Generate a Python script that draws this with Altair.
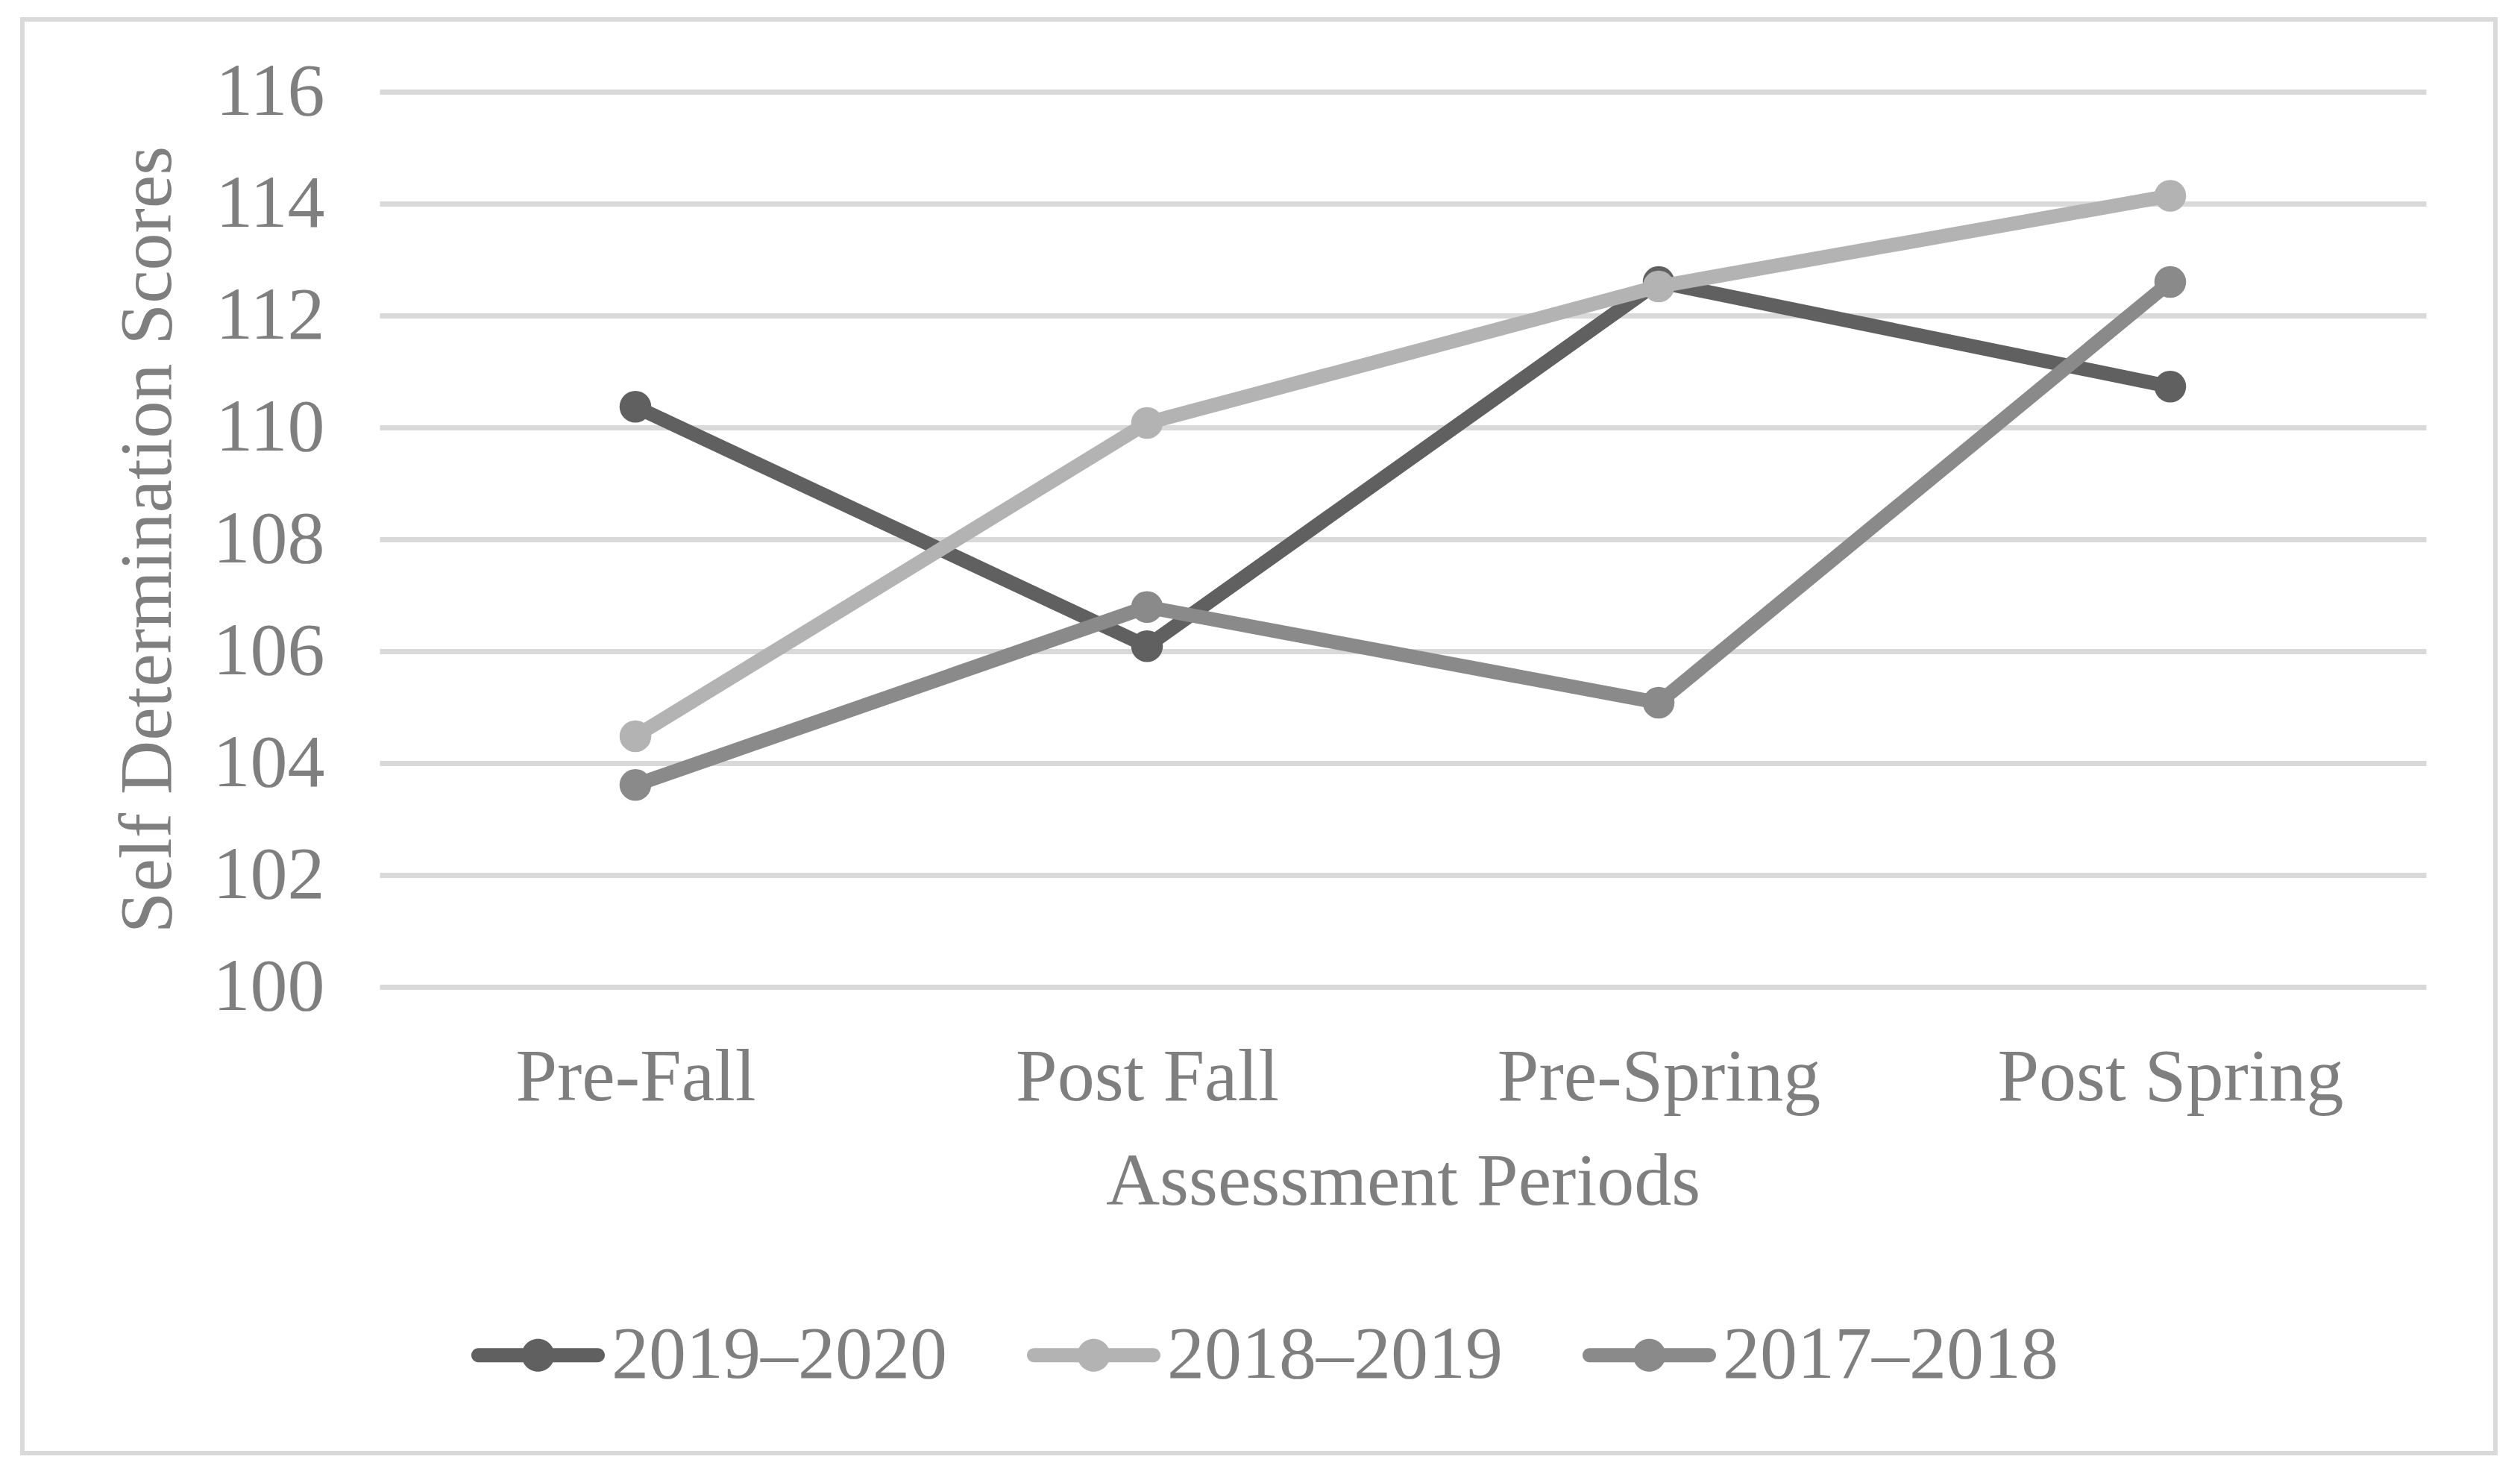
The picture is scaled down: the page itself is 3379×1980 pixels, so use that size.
import altair as alt
import pandas as pd

# ---- data ----
periods = ["Pre-Fall", "Post Fall", "Pre-Spring", "Post Spring"]
series_names = ["2019–2020", "2018–2019", "2017–2018"]
scores_2019_2020 = [110.37, 106.09, 112.60, 110.73]
scores_2018_2019 = [104.48, 110.08, 112.52, 114.14]
scores_2017_2018 = [103.61, 106.79, 105.08, 112.60]
series_colors = ["#606060", "#b3b3b3", "#8a8a8a"]
y_ticks = [100, 102, 104, 106, 108, 110, 112, 114, 116]

rows = []
for name, vals in zip(series_names, [scores_2019_2020, scores_2018_2019, scores_2017_2018]):
    for p, v in zip(periods, vals):
        rows.append({"period": p, "series": name, "score": v})
df = pd.DataFrame(rows)

FONT = "Liberation Serif"
TEXT = "#7f7f7f"
GRID = "#d9d9d9"
W, H = 2744, 1200

x_enc = alt.X(
    "period:N",
    sort=periods,
    scale=alt.Scale(type="point", padding=0.5),
    axis=alt.Axis(
        title="Assessment Periods", labelAngle=0, domain=False, ticks=False, grid=False,
        labelFont=FONT, labelFontSize=100, labelColor=TEXT, labelPadding=72, labelLimit=2000,
        titleFont=FONT, titleFontSize=100, titleColor=TEXT, titleFontWeight="normal",
        titleBaseline="alphabetic", titleAlign="center", titleX=W / 2, titleY=291,
        titleLimit=3000,
    ),
)
y_enc = alt.Y(
    "score:Q",
    scale=alt.Scale(domain=[100, 116], nice=False, zero=False),
    axis=alt.Axis(
        values=y_ticks, title="Self Determination Scores", domain=False, ticks=False,
        grid=True, gridColor=GRID, gridWidth=7,
        labelFont=FONT, labelFontSize=100, labelColor=TEXT, labelPadding=74, labelLimit=2000,
        titleFont=FONT, titleFontSize=100, titleColor=TEXT, titleFontWeight="normal",
        titleAngle=-90, titleBaseline="alphabetic", titleAlign="center",
        titleX=-281, titleY=H / 2, titleLimit=3000,
    ),
)

color_scale = alt.Scale(domain=series_names, range=series_colors)

legend_symbol = (
    "M-0.894,-0.106L0.894,-0.106A0.106,0.106,0,0,1,0.894,0.106"
    "L-0.894,0.106A0.106,0.106,0,0,1,-0.894,-0.106Z"
    "M0,-0.246A0.246,0.246,0,1,1,0,0.246A0.246,0.246,0,1,1,0,-0.246Z"
)
legend = alt.Legend(
    title=None, orient="none", legendX=123, legendY=1604, direction="horizontal",
    symbolType=legend_symbol, symbolSize=32041, symbolStrokeWidth=0, symbolOpacity=1,
    labelFont=FONT, labelFontSize=100, labelColor=TEXT, labelOffset=9, labelLimit=2000,
    columnPadding=107, padding=0, symbolOffset=0,
)

border = alt.Chart(pd.DataFrame({"k": [0]})).mark_rect(
    fill="transparent", stroke=GRID, strokeWidth=6
).encode(
    x=alt.value(-479), x2=alt.value(2837), y=alt.value(-97), y2=alt.value(1825)
)

layers = [border]
for name, col in zip(series_names, series_colors):
    base = alt.Chart(df).transform_filter(alt.datum.series == name)
    line = base.mark_line(
        strokeWidth=19, strokeCap="round", strokeJoin="round", color=col
    ).encode(x=x_enc, y=y_enc)
    pts = base.mark_circle(size=1810, opacity=1).encode(
        x=x_enc, y=y_enc,
        fill=alt.Fill("series:N", scale=color_scale, legend=legend),
    )
    layers += [line, pts]

chart = alt.layer(*layers).properties(
    width=W, height=H,
    autosize=alt.AutoSizeParams(type="none"),
    padding={"left": 501, "top": 115, "right": 100, "bottom": 640},
    background="white",
).configure_view(stroke=None)

chart.save("out.html", embed_options={"renderer": "svg", "actions": False})
